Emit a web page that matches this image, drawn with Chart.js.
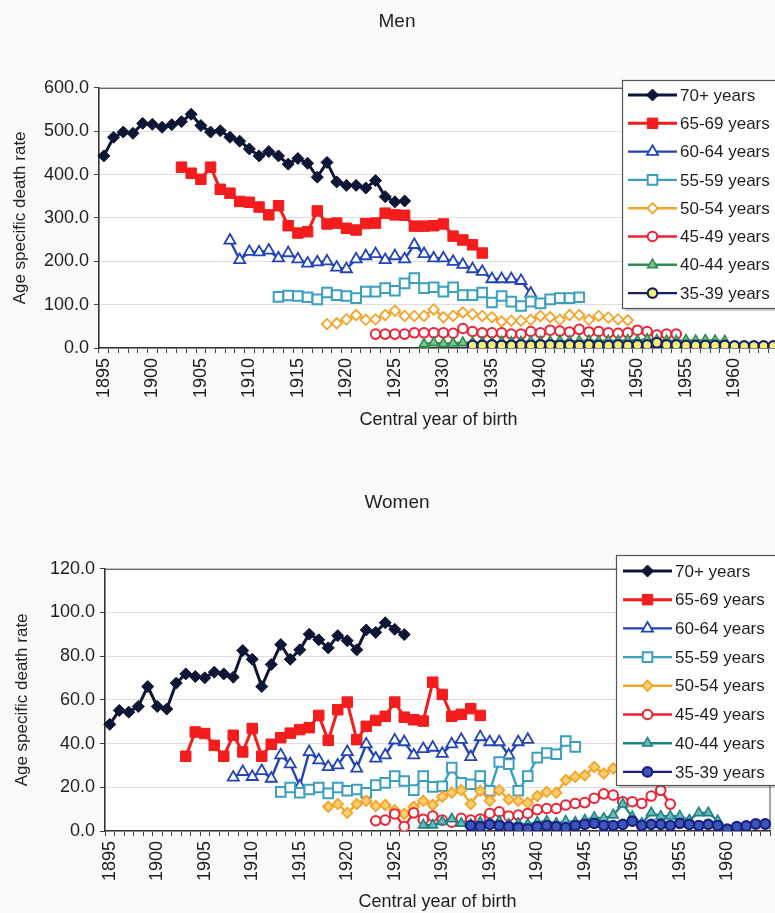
<!DOCTYPE html>
<html>
<head>
<meta charset="utf-8">
<script src="https://cdn.jsdelivr.net/npm/chart.js@4.4.1/dist/chart.umd.min.js"></script>
<style>
  html, body { margin: 0; padding: 0; background: #fafaf8; width: 775px; height: 913px; overflow: hidden; }
  .wrap { position: absolute; left: 0; }
  #wrapMen { top: 0; width: 800px; height: 440px; }
  #wrapWomen { top: 460px; width: 800px; height: 453px; }
</style>
</head>
<body>
<div class="wrap" id="wrapMen"><canvas id="men" width="800" height="440"></canvas></div>
<div class="wrap" id="wrapWomen"><canvas id="women" width="800" height="453"></canvas></div>
<script>
// Central year of birth categories
const FIRST_YEAR = 1895;
const LAST_YEAR = 1964;
const years = [];
for (let y = FIRST_YEAR; y <= LAST_YEAR; y++) years.push(y);

const ageGroups = ['70+ years', '65-69 years', '60-64 years', '55-59 years',
                   '50-54 years', '45-49 years', '40-44 years', '35-39 years'];
// first cohort year of each age group
const startYears = [1895, 1903, 1908, 1913, 1918, 1923, 1928, 1933];

// Men: age specific death rates
const men70 = [443,486,498,495,518,516,509,515,522,539,513,498,501,486,477,459,443,453,443,424,437,426,394,428,383,375,375,369,386,349,337,339];
const men65 = [417,403,389,417,366,357,338,336,325,307,328,282,265,268,316,286,288,276,272,287,288,311,307,306,281,281,282,286,258,249,238,219];
const men60 = [248,203,222,221,225,207,219,205,195,198,200,186,182,205,212,217,203,212,205,238,217,207,207,199,192,182,176,159,159,159,155,126];
const men55 = [118,121,120,117,112,128,122,120,115,130,130,138,132,149,161,138,140,130,140,122,122,128,105,120,107,97,107,103,112,115,115,117];
const men50 = [55,57,66,76,65,66,76,86,74,74,74,89,71,74,82,78,74,71,61,63,63,65,74,71,65,76,76,65,74,70,66,64];
const men45 = [32,32,32,32,35,35,35,35,34,45,38,35,35,35,32,32,38,35,41,39,37,43,37,38,35,34,35,41,38,30,32,32];
const men40 = [9,12,10,11,12,12,13,12,14,13,14,15,14,15,16,15,16,17,16,17,16,18,17,20,18,17,16,18,17,18,17,16];
const men35 = [6,6,7,6,6,7,6,7,7,6,7,6,7,6,6,7,6,7,7,12,7,7,6,6,6,6,6,5,5,5,5,5];

// Women: age specific death rates
const women70 = [48.8,55.2,54.4,57.0,66.1,57.0,55.8,67.7,71.9,70.7,70.1,72.7,71.9,70.4,82.6,78.6,66.1,76.2,85.3,78.6,82.9,90.1,87.5,83.8,89.4,87.1,82.9,92.0,90.9,95.3,92.3,89.9];
const women65 = [34.2,45.3,44.6,39.2,34.2,43.8,36.2,46.9,34.2,39.7,42.7,44.8,46.4,47.3,52.9,41.5,55.5,59.0,41.8,47.9,50.6,52.5,59.0,52.1,50.9,50.3,68.1,62.5,52.5,53.4,56.0,52.9];
const women60 = [24.5,27.1,24.8,27.5,24.0,34.7,30.6,20.5,36.2,32.4,29.3,30.1,36.2,28.6,39.7,33.2,34.7,41.5,40.7,34.7,37.6,38.2,35.4,39.7,41.8,33.9,43.0,40.7,40.7,34.7,40.7,41.8];
const women55 = [17.9,19.9,17.5,19.0,19.9,17.2,19.9,18.4,19.0,17.5,21.0,22.0,25.1,22.9,18.7,25.1,20.2,20.5,29.0,22.0,21.4,25.1,18.4,31.6,30.6,18.4,25.1,33.6,35.7,35.1,41.2,38.5];
const women50 = [11.1,12.3,8.3,12.3,13.8,11.4,11.9,9.5,7.8,11.1,13.8,11.9,15.7,17.5,18.7,12.3,18.4,13.8,18.7,14.4,13.8,12.9,16.0,17.9,17.5,23.3,24.8,25.5,29.3,26.3,28.6,30.0];
const women45 = [4.7,5.0,7.8,2.0,8.3,5.3,6.8,5.0,4.0,5.8,5.0,5.5,8.0,8.8,6.8,7.3,8.0,9.8,10.3,10.3,11.9,12.6,13.0,15.0,17.0,16.4,13.4,13.4,12.6,16.0,18.6,12.3];
const women40 = [2.7,2.7,4.3,5.5,3.5,3.0,4.0,3.5,4.5,3.0,3.5,3.0,4.0,4.5,3.5,4.5,4.0,5.0,6.2,5.8,7.3,12.3,6.5,3.5,8.3,6.8,6.8,6.8,5.0,8.3,8.3,4.7];
const women35 = [2.5,2.0,3.0,2.5,2.0,1.5,1.0,2.0,2.5,2.0,1.5,2.5,3.0,3.5,2.5,2.5,3.0,4.5,2.5,3.0,3.0,2.5,3.5,3.0,2.5,3.0,2.5,0.8,2.0,2.3,3.2,3.2];

const menSeries = [men70, men65, men60, men55, men50, men45, men40, men35];
const womenSeries = [women70, women65, women60, women55, women50, women45, women40, women35];

// y-axis tick values
const menTicks = [0, 100, 200, 300, 400, 500, 600];
const womenTicks = [0, 20, 40, 60, 80, 100, 120];

// place a cohort's values on the full year axis
function alignToYears(start, values) {
  return years.map(y => {
    const i = y - start;
    return (i >= 0 && i < values.length) ? values[i] : null;
  });
}

const FONT = '"Liberation Sans", Arial, Helvetica, sans-serif';

const menStyles = [
  { color: '#0e1535', fill: '#0e1535', shape: 'rectRot', r: 6, lw: 3, bw: 1 },
  { color: '#f41c1c', fill: '#f41c1c', shape: 'rect', r: 7.4, lw: 3, bw: 1 },
  { color: '#2343b8', fill: '#ffffff', shape: 'triangle', r: 6.4, lw: 2.4, bw: 1.8 },
  { color: '#3a9fc0', fill: '#ffffff', shape: 'rect', r: 6.8, lw: 2.4, bw: 2 },
  { color: '#f4a42a', fill: '#ffffff', shape: 'rectRot', r: 5.2, lw: 2.4, bw: 1.8 },
  { color: '#ee2233', fill: '#ffffff', shape: 'circle', r: 4.8, lw: 2.4, bw: 2 },
  { color: '#2f8a50', fill: '#7cc38c', shape: 'triangle', r: 5.6, lw: 2.4, bw: 1.6 },
  { color: '#16206e', fill: '#f4f070', shape: 'circle', r: 4.8, lw: 2.4, bw: 2.2 }
];
const womenStyles = [
  { color: '#0e1535', fill: '#0e1535', shape: 'rectRot', r: 6, lw: 3, bw: 1 },
  { color: '#f41c1c', fill: '#f41c1c', shape: 'rect', r: 7.4, lw: 3, bw: 1 },
  { color: '#2343b8', fill: '#ffffff', shape: 'triangle', r: 6.4, lw: 2.4, bw: 1.8 },
  { color: '#3a9fc0', fill: '#ffffff', shape: 'rect', r: 6.8, lw: 2.4, bw: 2 },
  { color: '#f4a42a', fill: '#fcd070', shape: 'rectRot', r: 5.2, lw: 2.4, bw: 1.8 },
  { color: '#ee2233', fill: '#ffffff', shape: 'circle', r: 4.8, lw: 2.4, bw: 2 },
  { color: '#1d8585', fill: '#70b8b8', shape: 'triangle', r: 5.6, lw: 2.4, bw: 1.6 },
  { color: '#1a1f80', fill: '#3a56b8', shape: 'circle', r: 4.8, lw: 2.4, bw: 2.2 }
];

// white plot area with a thin frame
const plotFrame = {
  id: 'plotFrame',
  beforeDraw(chart) {
    const { ctx, chartArea: a } = chart;
    ctx.save();
    ctx.fillStyle = '#ffffff';
    ctx.fillRect(a.left, a.top, a.right - a.left, a.bottom - a.top);
    ctx.restore();
  },
  beforeDatasetsDraw(chart) {
    const { ctx, chartArea: a } = chart;
    ctx.save();
    ctx.strokeStyle = '#6a6a6a';
    ctx.lineWidth = 1.2;
    ctx.beginPath();
    ctx.moveTo(a.left, a.top + 0.5);
    ctx.lineTo(a.right, a.top + 0.5);
    ctx.lineTo(a.right, a.bottom);
    ctx.stroke();
    ctx.restore();
  }
};

// boxed legend drawn over the plot, Excel style
const boxLegend = {
  id: 'boxLegend',
  afterDraw(chart, args, opts) {
    const { ctx } = chart;
    ctx.save();
    ctx.fillStyle = 'rgba(0,0,0,0.18)';
    ctx.fillRect(opts.x + 3, opts.y + 3, opts.w, opts.h);
    ctx.fillStyle = '#ffffff';
    ctx.fillRect(opts.x, opts.y, opts.w, opts.h);
    ctx.strokeStyle = '#555555';
    ctx.lineWidth = 1.2;
    ctx.strokeRect(opts.x + 0.5, opts.y + 0.5, opts.w, opts.h);
    chart.data.datasets.forEach((ds, i) => {
      const cy = opts.firstRow + i * opts.rowH;
      ctx.strokeStyle = ds.borderColor;
      ctx.lineWidth = ds.borderWidth;
      ctx.beginPath();
      ctx.moveTo(opts.lineX1, cy);
      ctx.lineTo(opts.lineX2, cy);
      ctx.stroke();
      ctx.fillStyle = ds.pointBackgroundColor;
      ctx.strokeStyle = ds.pointBorderColor;
      ctx.lineWidth = ds.pointBorderWidth;
      Chart.helpers.drawPoint(ctx, {
        pointStyle: ds.pointStyle, radius: ds.pointRadius, rotation: 0,
        borderWidth: ds.pointBorderWidth
      }, (opts.lineX1 + opts.lineX2) / 2, cy);
      ctx.fillStyle = '#1e1e1e';
      ctx.font = '17px ' + FONT;
      ctx.textBaseline = 'middle';
      ctx.textAlign = 'left';
      ctx.fillText(ds.label, opts.textX, cy + 1);
    });
    ctx.restore();
  }
};

function buildChart(canvasId, cfg) {
  const datasets = cfg.series.map((vals, i) => {
    const s = cfg.styles[i];
    return {
      label: ageGroups[i],
      data: alignToYears(startYears[i], vals),
      borderColor: s.color,
      borderWidth: s.lw,
      pointStyle: s.shape,
      pointRadius: s.r,
      pointHoverRadius: s.r,
      pointBackgroundColor: s.fill,
      pointBorderColor: s.color,
      pointBorderWidth: s.bw,
      tension: 0,
      spanGaps: false,
      order: ageGroups.length - i
    };
  });

  return new Chart(document.getElementById(canvasId), {
    type: 'line',
    data: { labels: years.map(String), datasets },
    plugins: [plotFrame, boxLegend],
    options: {
      responsive: false,
      animation: false,
      events: [],
      layout: { padding: cfg.padding },
      plugins: {
        legend: { display: false },
        tooltip: { enabled: false },
        title: {
          display: true,
          text: cfg.title,
          color: '#1e1e1e',
          font: { family: FONT, size: 19, weight: 'normal' },
          padding: cfg.titlePadding
        },
        boxLegend: cfg.legend
      },
      scales: {
        x: {
          type: 'category',
          offset: true,
          afterFit(scale) { scale.height = cfg.xHeight; },
          grid: {
            offset: true,
            drawOnChartArea: false,
            drawTicks: true,
            tickLength: 5,
            tickColor: '#444444',
            tickWidth: 1
          },
          border: { color: '#333333', width: 1.6 },
          ticks: {
            autoSkip: false,
            maxRotation: 90,
            minRotation: 90,
            padding: 5,
            color: '#1e1e1e',
            font: { family: FONT, size: 18 },
            callback(value, index) {
              return years[index] % 5 === 0 ? String(years[index]) : '';
            }
          },
          title: {
            display: true,
            text: 'Central year of birth',
            color: '#1e1e1e',
            font: { family: FONT, size: 18 },
            padding: { top: 0, bottom: cfg.xTitleBottom }
          }
        },
        y: {
          min: cfg.ticks[0],
          max: cfg.ticks[cfg.ticks.length - 1],
          afterFit(scale) { scale.width = cfg.yWidth; },
          afterBuildTicks(scale) { scale.ticks = cfg.ticks.map(v => ({ value: v })); },
          grid: {
            color: '#dedede',
            lineWidth: 1,
            drawTicks: true,
            tickLength: 5,
            tickColor: '#444444'
          },
          border: { color: '#333333', width: 1.6 },
          ticks: {
            padding: 5,
            color: '#1e1e1e',
            font: { family: FONT, size: 18 },
            callback(value) { return Number(value).toFixed(1); }
          },
          title: {
            display: true,
            text: 'Age specific death rate',
            color: '#1e1e1e',
            font: { family: FONT, size: 17 },
            padding: { top: cfg.yTitleTop, bottom: 0 }
          }
        }
      }
    }
  });
}

buildChart('men', {
  title: 'Men',
  series: menSeries,
  styles: menStyles,
  ticks: menTicks,
  padding: { left: 10, right: 16, top: 0, bottom: 0 },
  titlePadding: { top: 10, bottom: 55 },
  xHeight: 92,
  yWidth: 89,
  xTitleBottom: 9,
  yTitleTop: 0,
  legend: { x: 622, y: 80, w: 190, h: 228, firstRow: 95, rowH: 28.3,
            lineX1: 628, lineX2: 677, textX: 680 }
});

buildChart('women', {
  title: 'Women',
  series: womenSeries,
  styles: womenStyles,
  ticks: womenTicks,
  padding: { left: 24, right: 30, top: 0, bottom: 0 },
  titlePadding: { top: 31, bottom: 55 },
  xHeight: 82,
  yWidth: 81,
  xTitleBottom: 0,
  yTitleTop: -12,
  legend: { x: 616, y: 95, w: 190, h: 230, firstRow: 111, rowH: 28.7,
            lineX1: 623, lineX2: 672, textX: 675 }
});
</script>
</body>
</html>
